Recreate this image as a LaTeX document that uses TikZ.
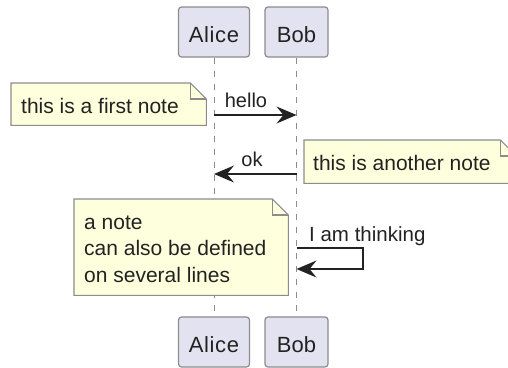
\documentclass[tikz,border=0pt]{standalone}
\usepackage{fontspec}
\setmainfont{Liberation Sans}
\newfontfamily\alicefont[LetterSpace=3]{Liberation Sans}
\usetikzlibrary{arrows.meta}
\definecolor{actorfill}{HTML}{E2E2F0}
\definecolor{notefill}{HTML}{FEFFDD}
\definecolor{edgegray}{HTML}{8C8C8C}
\definecolor{inkdark}{HTML}{222222}
\tikzset{
  x=1pt,y=-1pt,
  actor/.style={draw=edgegray,fill=actorfill,line width=1.2pt,rounded corners=3pt,minimum height=50pt,inner sep=0pt},
  actorlabel/.style={inner sep=0pt,anchor=base,text=inkdark,font=\fontsize{22}{24}\selectfont},
  lifeline/.style={draw=edgegray,line width=1pt,dash pattern=on 6.5pt off 6.5pt},
  notebody/.style={fill=notefill,inner sep=0pt,anchor=north west},
  notetext/.style={inner sep=0pt,anchor=base west,align=left,text=inkdark,font=\fontsize{21}{26.5}\selectfont},
  noteedge/.style={draw=edgegray,line width=1.1pt},
  msg/.style={draw=inkdark,line width=1.3pt,-{Stealth[length=20pt,width=17pt,inset=7pt]}},
  msglabel/.style={inner sep=0pt,text=inkdark,font=\fontsize{20}{24}\selectfont},
}
\newcommand{\notefold}[1]{%
  \fill[white] (#1.north east) ++(-16,0) -- ++(16,0) -- ++(0,16) -- cycle;
  \draw[noteedge] (#1.north west) -- ([xshift=-16pt]#1.north east) -- ([yshift=-16pt]#1.north east) -- (#1.south east) -- (#1.south west) -- cycle;
  \draw[noteedge] ([xshift=-16pt]#1.north east) -- ++(0,16) -- ([yshift=-16pt]#1.north east);
}
\begin{document}
\begin{tikzpicture}
\useasboundingbox (0,0) rectangle (508,367);
\node[actor,minimum width=71pt] (alice) at (214,32) {};
\node[actor,minimum width=63pt] (bob) at (296.5,32) {};
\node[actor,minimum width=71pt] (alice2) at (214,342) {};
\node[actor,minimum width=63pt] (bob2) at (296.5,342) {};
\node[actorlabel] (alicet) at (214,42) {\alicefont Alice};
\node[actorlabel] (bobt) at (296.5,42) {Bob};
\node[actorlabel] (alicet2) at (214,352) {\alicefont Alice};
\node[actorlabel] (bobt2) at (296.5,352) {Bob};
\draw[lifeline] (alice) -- (alice2);
\draw[lifeline] (bob) -- (bob2);
% notes
\node[notebody,minimum width=195pt,minimum height=42pt] (n1) at (11,83) {};
\notefold{n1}
\node[notetext] (n1t) at (21,113) {this is a first note};
\node[notebody,minimum width=212pt,minimum height=43pt] (n2) at (304,140) {};
\notefold{n2}
\node[notetext] (n2t) at (313,170) {this is another note};
\node[notebody,minimum width=214pt,minimum height=96pt] (n3) at (74,199) {};
\notefold{n3}
\node[notetext] (n3t) at (84,282) {a note\\can also be defined\\on several lines};
% messages
\coordinate (ha) at (alice |- 0,115);
\coordinate (hb) at (bob |- 0,115);
\coordinate (oa) at (alice |- 0,174);
\coordinate (ob) at (bob |- 0,174);
\coordinate (ta) at (bob |- 0,248);
\coordinate (tb) at (bob |- 0,269);
\coordinate (tc) at (363,248);
\coordinate (td) at (363,269);
\draw[msg] (ha) -- (hb);
\draw[msg] (ob) -- (oa);
\draw[msg] (ta) -- (tc) -- (td) -- (tb);
\node[msglabel,anchor=base] (hello) at (246,107) {hello};
\node[msglabel,anchor=base] (ok) at (252,166) {ok};
\node[msglabel,anchor=base west,font=\fontsize{20.5}{24}\selectfont] (think) at (309,241) {I am thinking};
\end{tikzpicture}
\end{document}
